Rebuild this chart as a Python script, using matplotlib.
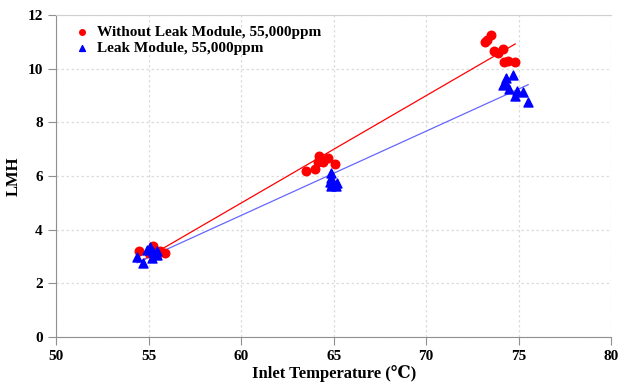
import numpy as np
import matplotlib
matplotlib.use('Agg')
import matplotlib.pyplot as plt

plt.rcParams['font.family'] = ['Liberation Serif', 'DejaVu Serif', 'DejaVu Sans']
plt.rcParams['font.weight'] = 'bold'

# without leak module
red_x = [54.49, 55.24, 55.03, 55.62, 55.89, 55.46, 55.19,
         63.51, 64.0, 64.16, 64.22, 64.43, 64.70, 65.08,
         73.19, 73.30, 73.51, 73.68, 73.89, 74.16, 74.22, 74.43, 74.81]
red_y = [3.21, 3.38, 3.12, 3.21, 3.14, 3.10, 3.25,
         6.17, 6.24, 6.50, 6.73, 6.50, 6.65, 6.43,
         10.99, 11.07, 11.25, 10.65, 10.58, 10.73, 10.24, 10.28, 10.24]

# leak module
blue_x = [54.38, 54.70, 54.92, 55.08, 55.24, 55.19, 55.46, 55.46,
          64.86, 64.86, 64.81, 64.92, 65.19, 64.86, 65.14,
          74.32, 74.70, 74.27, 74.16, 74.49, 74.92, 74.81, 75.24, 75.51]
blue_y = [2.99, 2.77, 3.25, 3.36, 3.18, 2.95, 3.21, 3.07,
          6.09, 5.94, 5.76, 5.68, 5.72, 5.61, 5.61,
          9.64, 9.76, 9.50, 9.38, 9.23, 9.16, 8.97, 9.12, 8.75]

fig = plt.figure(figsize=(6.19, 3.82), dpi=100)
ax = fig.add_axes([0.0905, 0.118, 0.897, 0.843])

ax.scatter(red_x, red_y, s=38, c='#ff0000', marker='o', zorder=3,
           label='Without Leak Module, 55,000ppm')
ax.scatter(blue_x, blue_y, s=42, c='#0000ff', marker='^', zorder=3,
           label='Leak Module, 55,000ppm')

# trend lines
for xs, ys, col in [(red_x, red_y, '#ff0000'), (blue_x, blue_y, '#6666ff')]:
    k, b = np.polyfit(xs, ys, 1)
    xx = np.array([min(xs), max(xs)])
    ax.plot(xx, k * xx + b, color=col, lw=0.9, zorder=2)

ax.set_xlim(50, 80)
ax.set_ylim(0, 12)
ax.set_xticks(range(50, 81, 5))
ax.set_yticks(range(0, 13, 2))
ax.grid(True, color='#dcdcdc', ls=(0, (2, 2)), lw=0.9)
ax.set_axisbelow(True)
for s in ['left', 'bottom']:
    ax.spines[s].set_color('#909090')
ax.spines['top'].set_color('#d0d0d0')
ax.spines['right'].set_visible(False)
ax.tick_params(direction='out', length=6, color='#909090', labelsize=11)
for lab in ax.get_xticklabels() + ax.get_yticklabels():
    lab.set_fontweight('bold')

ax.set_xlabel('Inlet Temperature (℃)', fontsize=12, fontweight='bold', labelpad=1)
ax.set_ylabel('LMH', fontsize=12, fontweight='bold')

ax.legend(loc='upper left', bbox_to_anchor=(0.003, 0.997), frameon=False,
          handletextpad=0.0, borderaxespad=0.2, labelspacing=0.15,
          markerscale=0.65, prop={'weight': 'bold', 'size': 11})

plt.savefig('out.png')
